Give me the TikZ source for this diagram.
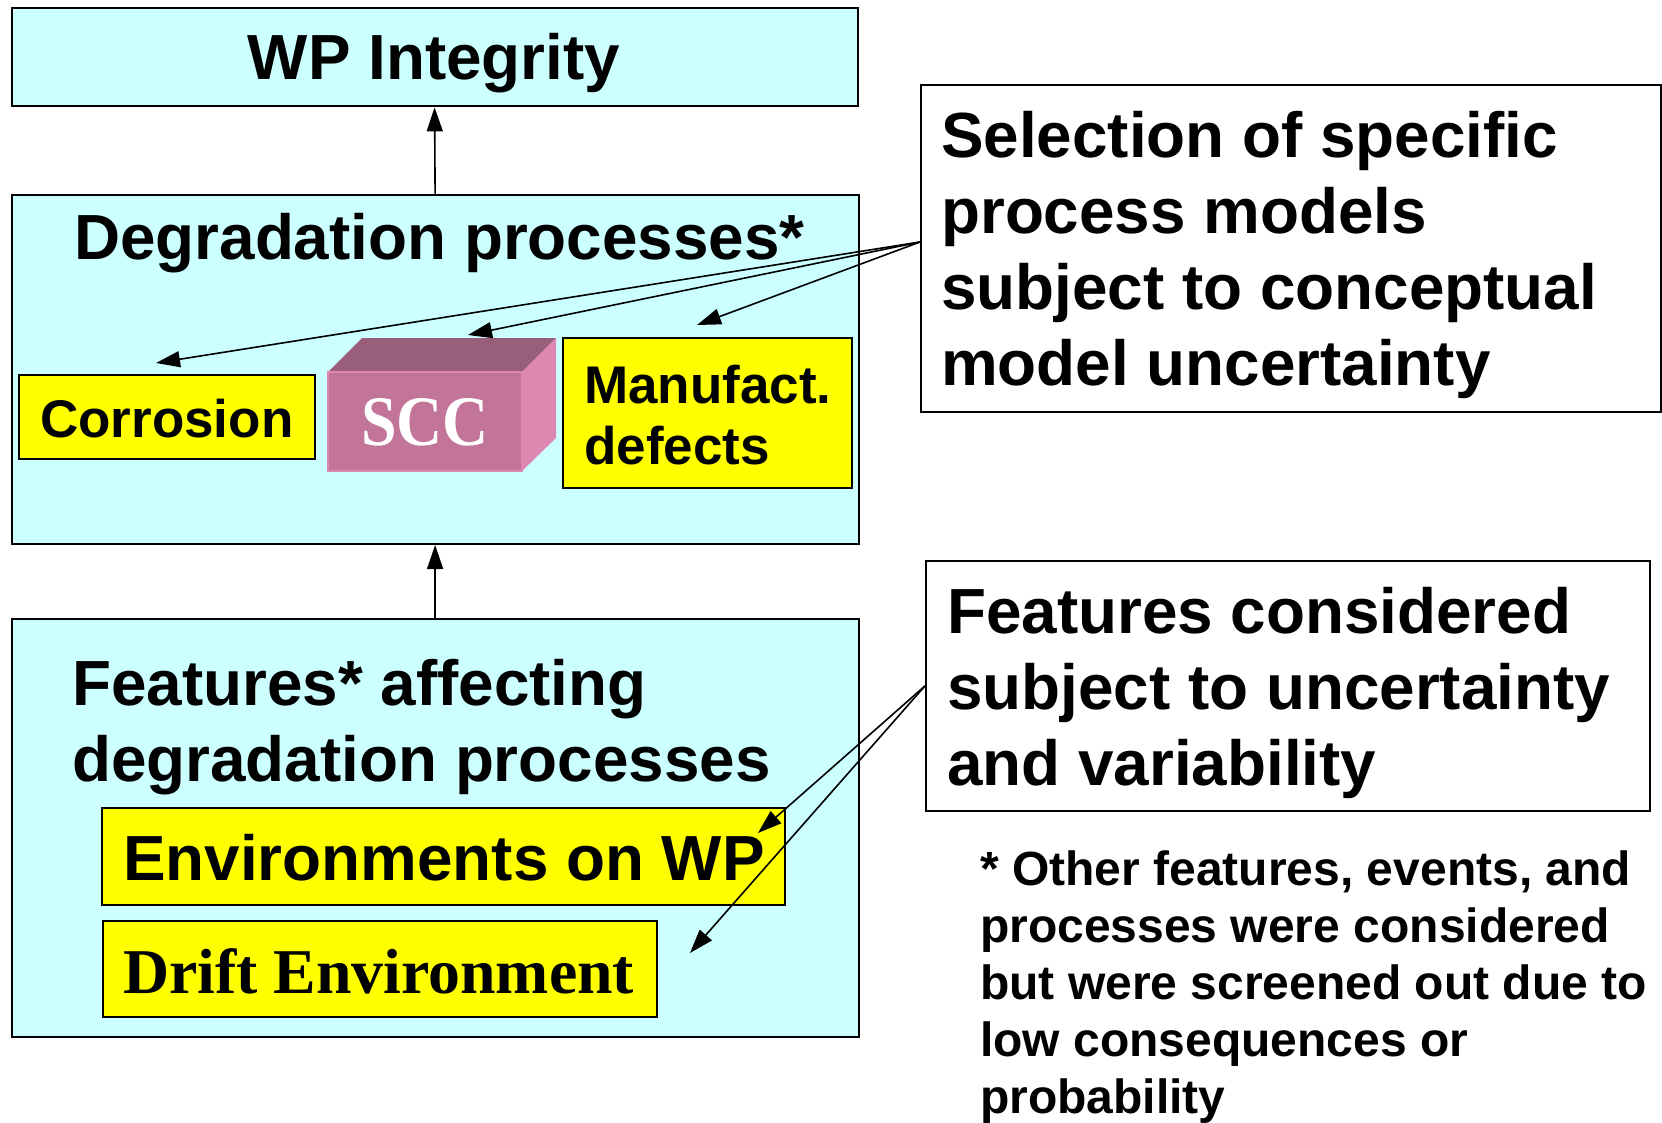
\documentclass[tikz,border=0pt]{standalone}
\usepackage{fontspec}
\setmainfont{Liberation Sans}
\newfontfamily\serifface{Liberation Serif}
\usetikzlibrary{arrows.meta}
\definecolor{panelcyan}{HTML}{CCFFFF}
\definecolor{tagyellow}{HTML}{FFFF00}
\definecolor{sccfront}{HTML}{C27599}
\definecolor{scctop}{HTML}{985E7A}
\definecolor{sccside}{HTML}{DE87B0}
\begin{document}
\begin{tikzpicture}[x=1pt,y=-1pt,
  panel/.style={draw=black, line width=2pt, fill=panelcyan, anchor=north west, inner sep=0pt},
  tag/.style={draw=black, line width=2pt, fill=tagyellow, anchor=north west, inner sep=0pt},
  note/.style={draw=black, line width=1.8pt, fill=white, anchor=north west, inner sep=0pt},
  % multi-line texts are placed by the baseline of their last line
  txt/.style={anchor=base west, inner sep=0pt, align=left, font=\bfseries\fontsize{63.8}{76}\selectfont},
  smalltxt/.style={anchor=base west, inner sep=0pt, align=left, font=\bfseries\fontsize{53}{61}\selectfont},
  foot/.style={anchor=base west, inner sep=0pt, align=left, font=\bfseries\fontsize{48}{57}\selectfont},
  link/.style={-{Triangle[length=24pt,width=16pt]}, line width=1.6pt},
]
\useasboundingbox (0,0) rectangle (1662,1123);

% main panels
\node[panel, minimum width=846pt, minimum height=98pt] (wp) at (10.6,7.4) {};
\node[panel, minimum width=847pt, minimum height=349pt] (deg) at (10.6,194) {};
\node[panel, minimum width=847pt, minimum height=418pt] (feat) at (10.6,618) {};

\node[anchor=base, inner sep=0pt, font=\bfseries\fontsize{63.8}{76}\selectfont] (wptext) at (434,80) {WP Integrity};
\node[txt] (degtext) at (74,260) {Degradation processes*};
\node[txt] (feattext) at (72,781) {Features* affecting\\degradation processes};

% degradation processes
\node[tag, minimum width=296pt, minimum height=84pt] (corr) at (18,374) {};
\node[smalltxt] (corrtext) at (40,437) {Corrosion};
\node[tag, minimum width=289pt, minimum height=150pt] (manu) at (562,337) {};
\node[smalltxt] (manutext) at (584,464) {Manufact.\\defects};

% SCC block
\fill[scctop] (328,372) -- (362,338) -- (556,338) -- (522,372) -- cycle;
\fill[sccside] (522,372) -- (556,338) -- (556,438) -- (522,471) -- cycle;
\fill[sccfront] (328,372) rectangle (522,471);
\draw[sccside, line width=1.5pt] (328,372) rectangle (522,471);
\node[anchor=base, inner sep=0pt, text=white, font=\serifface\bfseries\fontsize{71}{80}\selectfont] (scc) at (425,445) {\scalebox{0.9}[1]{SCC}};

% features
\node[tag, minimum width=683pt, minimum height=97pt] (env) at (101,807) {};
\node[txt] (envtext) at (123,880) {Environments on WP};
\node[tag, minimum width=554pt, minimum height=96pt] (drift) at (102,920) {};
\node[anchor=base west, inner sep=0pt, font=\serifface\bfseries\fontsize{63.8}{76}\selectfont] (drifttext) at (123,993) {Drift Environment};

% side notes
\node[note, minimum width=740pt, minimum height=327pt] (sel) at (920,84) {};
\node[txt] (seltext) at (941,385) {Selection of specific\\process models\\subject to conceptual\\model uncertainty};
\node[note, minimum width=724pt, minimum height=250pt] (unc) at (925,560) {};
\node[txt] (unctext) at (947,785) {Features considered\\subject to uncertainty\\and variability};
\node[foot] (footnote) at (980,1113) {* Other features, events, and\\processes were considered\\but were screened out due to\\low consequences or\\probability};

% connectors
\draw[link] (deg.north) -- (wp.south);
\draw[link] (feat.north) -- (deg.south);

\coordinate (selsrc) at (920,242);
\coordinate (corrtip) at (156,363);
\coordinate (scctip) at (468,335);
\coordinate (manutip) at (697,325);
\draw[link] (selsrc) -- (corrtip);
\draw[link] (selsrc) -- (scctip);
\draw[link] (selsrc) -- (manutip);

\coordinate (envtip) at (758,833);
\coordinate (drifttip) at (690,953);
\draw[link] (unc.west) -- (envtip);
\draw[link] (unc.west) -- (drifttip);
\end{tikzpicture}
\end{document}
